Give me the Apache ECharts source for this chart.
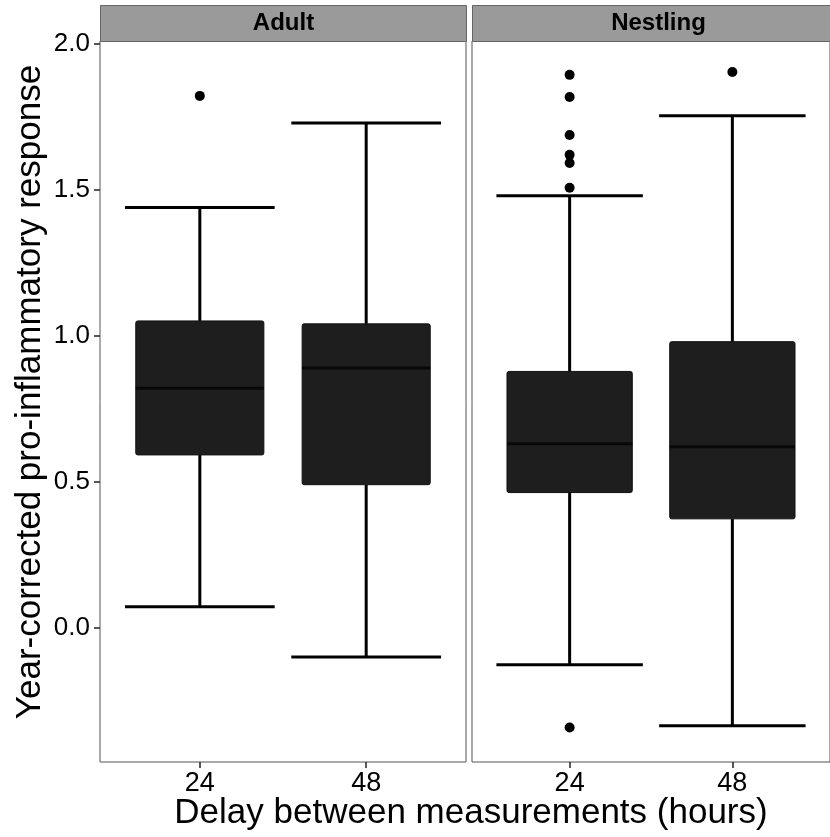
<!DOCTYPE html>
<html>
<head>
<meta charset="utf-8">
<script src="https://cdn.jsdelivr.net/npm/echarts@6/dist/echarts.min.js"></script>
<style>
html,body{margin:0;padding:0;background:#fff;}
#chart{width:830px;height:837px;}
</style>
</head>
<body>
<div id="chart"></div>
<script>
// ---- data ----
const panels = ['Adult', 'Nestling'];
const delayLabels = ['24', '48'];
const delayPositions = [1, 2];
const yTicks = [0.0, 0.5, 1.0, 1.5, 2.0];

// box statistics per panel: [24h, 48h]
const adultLow    = [0.072, -0.100];
const adultQ1     = [0.592, 0.490];
const adultMedian = [0.820, 0.890];
const adultQ3     = [1.051, 1.041];
const adultHigh   = [1.440, 1.729];

const nestLow     = [-0.127, -0.336];
const nestQ1      = [0.463, 0.373];
const nestMedian  = [0.630, 0.620];
const nestQ3      = [0.878, 0.980];
const nestHigh    = [1.480, 1.754];

const adultOutliers24 = [1.822];
const adultOutliers48 = [];
const nestOutliers24  = [1.894, 1.818, 1.688, 1.620, 1.592, 1.507, -0.342];
const nestOutliers48  = [1.904];

// ---- build ----
function boxRows(low, q1, med, q3, high) {
  return delayPositions.map((p, i) => [p, low[i], q1[i], med[i], q3[i], high[i]]);
}
function outlierRows(o24, o48) {
  return o24.map(v => [delayPositions[0], v]).concat(o48.map(v => [delayPositions[1], v]));
}

const BOX_W = 0.77, CAP_W = 0.9;
function renderBox(params, api) {
  const x = api.value(0);
  const unit = api.size([1, 0])[0];
  const bw = unit * BOX_W, cw = unit * CAP_W;
  const pLow = api.coord([x, api.value(1)]);
  const pQ1 = api.coord([x, api.value(2)]);
  const pMed = api.coord([x, api.value(3)]);
  const pQ3 = api.coord([x, api.value(4)]);
  const pHigh = api.coord([x, api.value(5)]);
  const cx = pMed[0];
  const ls = {stroke: '#000', lineWidth: 3};
  return {
    type: 'group',
    children: [
      {type: 'line', shape: {x1: cx, y1: pHigh[1], x2: cx, y2: pQ3[1]}, style: ls},
      {type: 'line', shape: {x1: cx, y1: pQ1[1], x2: cx, y2: pLow[1]}, style: ls},
      {type: 'line', shape: {x1: cx - cw / 2, y1: pHigh[1], x2: cx + cw / 2, y2: pHigh[1]}, style: ls},
      {type: 'line', shape: {x1: cx - cw / 2, y1: pLow[1], x2: cx + cw / 2, y2: pLow[1]}, style: ls},
      {type: 'rect', shape: {x: cx - bw / 2, y: pQ3[1], width: bw, height: pQ1[1] - pQ3[1], r: 2},
       style: {fill: '#1e1e1e', stroke: '#111', lineWidth: 1}},
      {type: 'line', shape: {x1: cx - bw / 2, y1: pMed[1], x2: cx + bw / 2, y2: pMed[1]}, style: {stroke: '#080808', lineWidth: 3}}
    ]
  };
}

const FONT = '"Liberation Sans", Arial, sans-serif';
const Y_MIN = -0.46, Y_MAX = 2.01;
const gridsCfg = [
  {left: 100, top: 41, width: 366, height: 721},
  {left: 472, top: 41, width: 367, height: 721}
];

const option = {
  animation: false,
  backgroundColor: '#fff',
  grid: gridsCfg.map(g => Object.assign({show: true, borderColor: '#555', borderWidth: 1, backgroundColor: '#fff', containLabel: false}, g)),
  xAxis: gridsCfg.map((g, gi) => ({
    type: 'value', gridIndex: gi, min: 0.4, max: 2.6, position: 'bottom',
    axisLine: {show: false, onZero: false}, splitLine: {show: false},
    axisTick: {show: true, customValues: delayPositions, length: 6, lineStyle: {color: '#222', width: 1.5}},
    axisLabel: {show: true, customValues: delayPositions, margin: 8, fontSize: 27, color: '#000', fontFamily: FONT,
      formatter: v => delayLabels[delayPositions.indexOf(Math.round(v))] || ''}
  })),
  yAxis: gridsCfg.map((g, gi) => ({
    type: 'value', gridIndex: gi, min: Y_MIN, max: Y_MAX, position: 'left',
    axisLine: {show: false, onZero: false}, splitLine: {show: false},
    axisTick: {show: gi === 0, customValues: yTicks, length: 6, lineStyle: {color: '#222', width: 1.5}},
    axisLabel: {show: gi === 0, customValues: yTicks, margin: 10, fontSize: 26, color: '#000', fontFamily: FONT,
      formatter: v => v.toFixed(1)}
  })),
  series: [
    {type: 'custom', xAxisIndex: 0, yAxisIndex: 0, renderItem: renderBox, encode: {x: 0, y: [1, 2, 3, 4, 5]},
     data: boxRows(adultLow, adultQ1, adultMedian, adultQ3, adultHigh), z: 2},
    {type: 'custom', xAxisIndex: 1, yAxisIndex: 1, renderItem: renderBox, encode: {x: 0, y: [1, 2, 3, 4, 5]},
     data: boxRows(nestLow, nestQ1, nestMedian, nestQ3, nestHigh), z: 2},
    {type: 'scatter', xAxisIndex: 0, yAxisIndex: 0, symbolSize: 10, itemStyle: {color: '#000', opacity: 1},
     data: outlierRows(adultOutliers24, adultOutliers48), z: 3},
    {type: 'scatter', xAxisIndex: 1, yAxisIndex: 1, symbolSize: 10, itemStyle: {color: '#000', opacity: 1},
     data: outlierRows(nestOutliers24, nestOutliers48), z: 3}
  ],
  graphic: [
    // facet strips
    ...gridsCfg.map((g, i) => ({
      type: 'group', left: g.left, top: 5,
      children: [
        {type: 'rect', shape: {x: 0, y: 0, width: g.width, height: 36}, style: {fill: '#9a9a9a', stroke: '#666', lineWidth: 1}},
        {type: 'text', x: (i === 0 ? g.width / 2 : (830 - g.left) / 2 + 7), y: 18,
         style: {text: panels[i], fill: '#000', font: 'bold 24px ' + FONT, textAlign: 'center', textVerticalAlign: 'middle'}}
      ]
    })),
    {type: 'text', x: 471, y: 813,
     style: {text: 'Delay between measurements (hours)', fill: '#000', font: '35px ' + FONT, textAlign: 'center', textVerticalAlign: 'middle'}},
    {type: 'text', x: 30, y: 392, rotation: Math.PI / 2,
     style: {text: 'Year-corrected pro-inflammatory response', fill: '#000', font: '35px ' + FONT, textAlign: 'center', textVerticalAlign: 'middle'}}
  ]
};

const chart = echarts.init(document.getElementById('chart'), null, {renderer: 'canvas'});
chart.setOption(option);
</script>
</body>
</html>
